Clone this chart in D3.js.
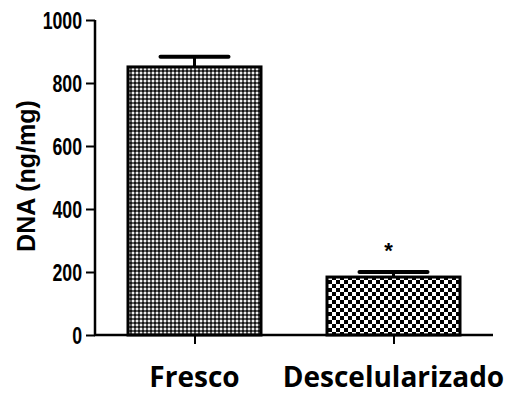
<!DOCTYPE html>
<html>
<head>
<meta charset="utf-8">
<script src="https://cdn.jsdelivr.net/npm/d3@7"></script>
<style>
  body { margin: 0; background: #fff; }
  svg { display: block; }
</style>
</head>
<body>
<svg width="509" height="394"></svg>
<script>
(function() {
    var categories = ["Fresco", "Descelularizado"];
    var means = [851, 184];
    var errors = [32, 16];
    var marks = ["", "*"];
    var yTicks = [0, 200, 400, 600, 800, 1000];

    var svg = d3.select("svg");

    var x = d3.scalePoint()
        .domain(categories)
        .range([95, 493])
        .padding(0.5);

    var y = d3.scaleLinear()
        .domain([0, 1000])
        .range([335, 20]);

    var barWidth = 133;

    // patterns
    var defs = svg.append("defs");
    var fine = defs.append("pattern")
        .attr("id", "fine")
        .attr("patternUnits", "userSpaceOnUse")
        .attr("width", 4).attr("height", 4);
    fine.append("rect").attr("width", 4).attr("height", 4).attr("fill", "#5a5a5a");
    fine.append("rect").attr("width", 2).attr("height", 2).attr("fill", "#eeeeee");
    fine.append("rect").attr("x", 2).attr("y", 2).attr("width", 2).attr("height", 2).attr("fill", "#151515");

    var checker = defs.append("pattern")
        .attr("id", "checker")
        .attr("patternUnits", "userSpaceOnUse")
        .attr("width", 8).attr("height", 8);
    checker.append("rect").attr("width", 8).attr("height", 8).attr("fill", "#fff");
    checker.append("rect").attr("width", 4).attr("height", 4).attr("fill", "#000");
    checker.append("rect").attr("x", 4).attr("y", 4).attr("width", 4).attr("height", 4).attr("fill", "#000");

    var fills = ["url(#fine)", "url(#checker)"];

    // error bars (drawn first, stem hidden by bar)
    var err = svg.selectAll(".err")
        .data(categories)
        .enter().append("g")
          .attr("class", "err");
    err.append("line")
        .attr("x1", function(d) { return x(d); })
        .attr("x2", function(d) { return x(d); })
        .attr("y1", function(d, i) { return y(means[i]); })
        .attr("y2", function(d, i) { return y(means[i] + errors[i]); })
        .attr("stroke", "#000").attr("stroke-width", 3);
    err.append("line")
        .attr("x1", function(d) { return x(d) - 34; })
        .attr("x2", function(d) { return x(d) + 34; })
        .attr("y1", function(d, i) { return y(means[i] + errors[i]); })
        .attr("y2", function(d, i) { return y(means[i] + errors[i]); })
        .attr("stroke", "#000").attr("stroke-width", 4)
        .attr("stroke-linecap", "round");

    svg.selectAll(".bar")
        .data(categories)
        .enter().append("rect")
          .attr("class", "bar")
          .attr("x", function(d) { return x(d) - barWidth / 2; })
          .attr("y", function(d, i) { return y(means[i]); })
          .attr("width", barWidth)
          .attr("height", function(d, i) { return y(0) - y(means[i]); })
          .attr("fill", function(d, i) { return fills[i]; })
          .attr("stroke", "#000")
          .attr("stroke-width", 3);

    svg.selectAll(".mark")
        .data(categories)
        .enter().append("text")
          .attr("class", "mark")
          .attr("x", function(d) { return x(d) - 5; })
          .attr("y", function(d, i) { return y(means[i] + errors[i]) - 14; })
          .attr("text-anchor", "middle")
          .style("font", "bold 22px 'Liberation Sans', Arial, sans-serif")
          .text(function(d, i) { return marks[i]; });

    // y axis (narrow bold digits)
    var yAxis = svg.append("g")
        .attr("transform", "translate(95,0)")
        .attr("font-size", 23)
        .attr("font-family", "'Liberation Sans', Arial, sans-serif")
        .attr("font-weight", "bold")
        .call(d3.axisLeft(y).tickValues(yTicks).tickSize(9).tickPadding(4).tickFormat(d3.format("d")));
    yAxis.attr("font-size", 23).attr("font-family", "'Liberation Sans', Arial, sans-serif");
    yAxis.select(".domain").attr("stroke-width", 2.5).attr("d", "M0," + y(1000) + "V" + y(0));
    yAxis.selectAll(".tick line").attr("stroke-width", 2);
    yAxis.selectAll(".tick text")
        .style("font-size", "23px")
        .style("font-weight", "bold")
        .attr("fill", "#000")
        .attr("x", -13 / 0.77)
        .attr("dy", "0.36em")
        .attr("transform", "scale(0.77,1)");

    // x axis
    var xAxis = svg.append("g")
        .attr("transform", "translate(0,335)")
        .call(d3.axisBottom(x).tickSize(9).tickFormat(""));
    xAxis.select(".domain").attr("stroke-width", 2.5).attr("d", "M94,0H493");
    xAxis.selectAll(".tick line").attr("stroke-width", 2);

    svg.selectAll(".xlabel")
        .data(categories)
        .enter().append("text")
          .attr("class", "xlabel")
          .attr("x", function(d) { return x(d); })
          .attr("y", 387)
          .attr("text-anchor", "middle")
          .style("font", "bold 28px 'Open Sans', sans-serif")
          .text(function(d) { return d; });

    svg.append("text")
        .attr("transform", "translate(35,176) rotate(-90)")
        .attr("text-anchor", "middle")
        .style("font", "bold 25px 'Liberation Sans', Arial, sans-serif")
        .text("DNA (ng/mg)");
})();
</script>
</body>
</html>
